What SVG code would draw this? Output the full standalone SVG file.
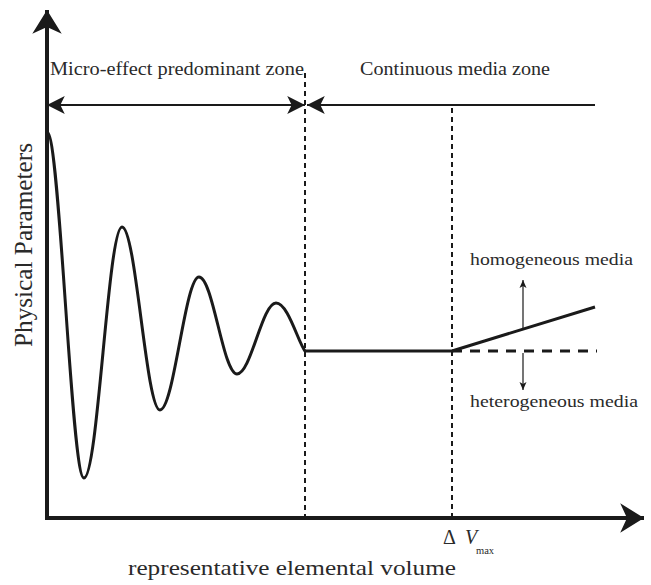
<svg xmlns="http://www.w3.org/2000/svg" width="651" height="585" viewBox="0 0 651 585">
<style>
text{font-family:"Liberation Serif","Times New Roman",serif;fill:#2a2a2a}
.ax{stroke:#1a1a1a;stroke-width:4;fill:none}
.curve{stroke:#1a1a1a;stroke-width:3;fill:none;stroke-linejoin:round}
.dim{stroke:#1a1a1a;stroke-width:2;fill:none}
.vd{stroke:#1a1a1a;stroke-width:2;stroke-dasharray:5 4;fill:none}
.hd{stroke:#1a1a1a;stroke-width:3;stroke-dasharray:10 8;fill:none}
.thin{stroke:#1a1a1a;stroke-width:1.2;fill:none}
</style>
<defs>
<marker id="big" markerUnits="userSpaceOnUse" markerWidth="30" markerHeight="34" viewBox="-22 -15 24 30" refX="0" refY="0" orient="auto">
<path d="M0,0 L-21,-13 L-15,0 L-21,13 Z" fill="#1a1a1a"/>
</marker>
<marker id="mid" markerUnits="userSpaceOnUse" markerWidth="20" markerHeight="20" viewBox="-17 -9 18 18" refX="0" refY="0" orient="auto-start-reverse">
<path d="M0,0 L-16,-8 L-12,0 L-16,8 Z" fill="#1a1a1a"/>
</marker>
<marker id="sm" markerUnits="userSpaceOnUse" markerWidth="10" markerHeight="10" viewBox="-9 -5 10 10" refX="0" refY="0" orient="auto">
<path d="M0,0 L-8,-3.5 L-6,0 L-8,3.5 Z" fill="#1a1a1a"/>
</marker>
</defs>
<g id="connectors">
<path id="y-axis" class="ax" d="M47,520 L47,10" marker-end="url(#big)"/>
<path id="x-axis" class="ax" d="M45,518 L644,518" marker-end="url(#big)"/>
<path id="dim-micro" class="dim" d="M305,105 L47,105" marker-start="url(#mid)" marker-end="url(#mid)"/>
<path id="dim-cont" class="dim" d="M595,105 L307,105" marker-end="url(#mid)"/>
<path id="arrow-up" class="thin" d="M523,328 L523,280" marker-end="url(#sm)"/>
<path id="arrow-down" class="thin" d="M523,353 L523,390" marker-end="url(#sm)"/>
</g>
<g id="guides">
<path class="vd" d="M305,73 L305,518"/>
<path class="vd" d="M452,108 L452,518"/>
<path class="hd" d="M452,351 L597,351"/>
</g>
<g id="curve">
<path class="curve" d="M47,132 C60,132 71,478 84,478 C98,478 108,227 122,227 C136,227 146,410 160,410 C174,410 185,277 199,277 C213,277 223,374 237,374 C251,374 262,303 276,303 C288,303 298,342 305,351 L452,351 L595,307"/>
</g>
<g id="labels">
<text id="t-micro" x="50" y="75" font-size="18" textLength="254" lengthAdjust="spacingAndGlyphs">Micro-effect predominant zone</text>
<text id="t-cont" x="360" y="75" font-size="18" textLength="190" lengthAdjust="spacingAndGlyphs">Continuous media zone</text>
<text id="t-homo" x="470" y="265" font-size="17.5" textLength="163" lengthAdjust="spacingAndGlyphs">homogeneous media</text>
<text id="t-hetero" x="470" y="407" font-size="17.5" textLength="168" lengthAdjust="spacingAndGlyphs">heterogeneous media</text>
<text id="t-y" transform="translate(32,347) rotate(-90)" font-size="25" textLength="204" lengthAdjust="spacingAndGlyphs">Physical Parameters</text>
<text id="t-x" x="128" y="575" font-size="22" textLength="328" lengthAdjust="spacingAndGlyphs">representative elemental volume</text>
<text id="t-dv" x="443" y="544" font-size="20">Δ<tspan x="465" font-style="italic">V</tspan><tspan x="476" y="554" font-size="10.5">max</tspan></text>
</g>
</svg>
